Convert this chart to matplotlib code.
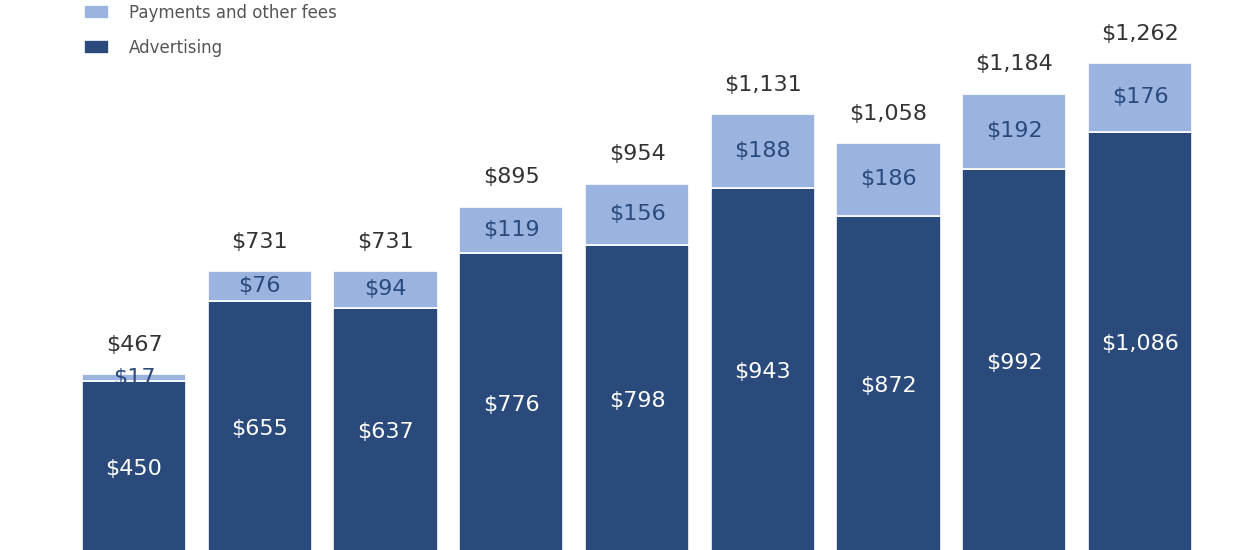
import matplotlib.pyplot as plt
import numpy as np

# values in $ millions, one bar per period
advertising = [450, 655, 637, 776, 798, 943, 872, 992, 1086]
payments = [17, 76, 94, 119, 156, 188, 186, 192, 176]
totals = [467, 731, 731, 895, 954, 1131, 1058, 1184, 1262]

dark = '#2a4a7b'
light = '#9ab3df'

fig = plt.figure(figsize=(12.5, 5.5), dpi=100)
ax = fig.add_axes([0, 0, 1, 1])

x = np.arange(len(advertising))
w = 0.83
ax.bar(x, advertising, w, color=dark, edgecolor='white', linewidth=1.2, label='Advertising')
ax.bar(x, payments, w, bottom=advertising, color=light, edgecolor='white', linewidth=1.2,
       label='Payments and other fees')

for i in range(len(x)):
    ax.text(x[i], advertising[i] / 2, f'${advertising[i]:,}', ha='center', va='center',
            color='white', fontsize=16)
    ax.text(x[i], advertising[i] + payments[i] / 2, f'${payments[i]:,}', ha='center', va='center',
            color=dark, fontsize=16)
    ax.text(x[i], totals[i] + 75, f'${totals[i]:,}', ha='center', va='center',
            color='#333333', fontsize=16)

ax.set_xlim(-1.066, 8.875)
ax.set_ylim(18, 1423)
ax.axis('off')

h, l = ax.get_legend_handles_labels()
ax.legend(h[::-1], l[::-1], loc='upper left', bbox_to_anchor=(0.055, 1.02), frameon=False,
          fontsize=12, labelcolor='#555555', handlelength=1.5, handleheight=0.9,
          labelspacing=1.0, handletextpad=1.2)

fig.savefig('out.png', dpi=100)
